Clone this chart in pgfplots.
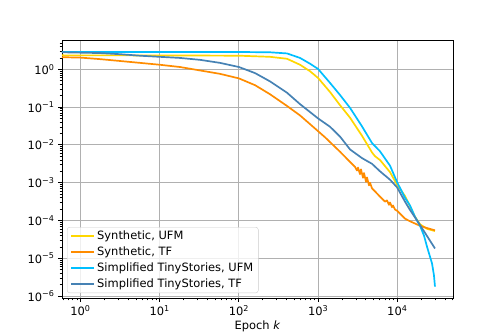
\documentclass[border=0pt]{standalone}
\usepackage{fontspec}
\setmainfont{DejaVu Sans}
\usepackage{pgfplots}
\pgfplotsset{compat=1.18}
\definecolor{cgold}{RGB}{255,215,0}
\definecolor{corange}{RGB}{255,140,0}
\definecolor{csky}{RGB}{0,191,255}
\definecolor{csteel}{RGB}{70,130,180}

\begin{document}
\begin{tikzpicture}
\path[use as bounding box] (-62bp,-37bp) rectangle (441bp,298bp);
\begin{axis}[
  at={(0,0)}, anchor=south west,
  scale only axis, width=391bp, height=258bp,
  xmode=log, ymode=log,
  xmin=0.584, xmax=50500, ymin=8.9e-7, ymax=5.96,
  xtick={1,10,100,1000,10000},
  xticklabels={10\textsuperscript{0},10\textsuperscript{1},10\textsuperscript{2},10\textsuperscript{3},10\textsuperscript{4}},
  ytick={1e-6,1e-5,1e-4,1e-3,1e-2,1e-1,1},
  yticklabels={10\textsuperscript{−6},10\textsuperscript{−5},10\textsuperscript{−4},10\textsuperscript{−3},10\textsuperscript{−2},10\textsuperscript{−1},10\textsuperscript{0}},
  minor xtick={0.6,0.7,0.8,0.9,2,3,4,5,6,7,8,9,20,30,40,50,60,70,80,90,200,300,400,500,600,700,800,900,2000,3000,4000,5000,6000,7000,8000,9000,20000,30000,40000,50000},
  minor ytick={2e-6,3e-6,4e-6,5e-6,6e-6,7e-6,8e-6,9e-6,2e-5,3e-5,4e-5,5e-5,6e-5,7e-5,8e-5,9e-5,2e-4,3e-4,4e-4,5e-4,6e-4,7e-4,8e-4,9e-4,2e-3,3e-3,4e-3,5e-3,6e-3,7e-3,8e-3,9e-3,0.02,0.03,0.04,0.05,0.06,0.07,0.08,0.09,0.2,0.3,0.4,0.5,0.6,0.7,0.8,0.9,2,3,4,5},
  tick align=outside, tick pos=left,
  major tick length=4bp, minor tick length=2.3bp,
  every tick/.style={black, line width=0.9bp},
  minor tick style={black, line width=0.7bp},
  ymajorgrids=true, xmajorgrids=true,
  major grid style={color=black!31, line width=0.9bp},
  axis line style={black, line width=0.9bp},
  tick label style={font=\fontsize{11.5}{13.8}\selectfont},
  xlabel={Epoch \textit{k}},
  label style={font=\fontsize{11.5}{13.8}\selectfont},
  xlabel style={yshift=2bp},
  legend style={at={(0.0128,0.0194)}, anchor=south west, draw=black!20,
    rounded corners=2.5bp, fill=white, fill opacity=0.8, text opacity=1,
    font=\fontsize{11.5}{13.8}\selectfont, row sep=1.6bp},
  legend cell align=left,
  legend image code/.code={\draw[#1, line width=2bp] (0bp,0bp) -- (23bp,0bp);},
  every axis plot/.append style={line width=1.7bp, line join=round},
]
\addplot[color=cgold] coordinates {
(0.584,2.34)(10,2.33)(100,2.29)(247,2.14)(405,1.9)(591,1.32)(790,0.891)(1000,0.589)
(1414,0.251)(1892,0.1122)(2530,0.0525)(3585,0.0174)(4795,0.00631)(5230,0.00501)
(6050,0.00398)(8090,0.0019)(9910,8.9e-4)(12500,4.47e-4)(14450,2.4e-4)(16720,1.26e-4)
(19360,7.94e-5)(23700,6.03e-5)(29900,5.25e-5)
};
\addlegendentry{Synthetic, UFM}
\addplot[color=corange] coordinates {
(0.584,2.09)(1,2.04)(1.76,1.86)(3.15,1.66)(5.64,1.48)(10,1.32)(18,1.15)(32.3,0.933)
(57.7,0.759)(100,0.575)(160,0.38)(247,0.219)(405,0.1072)(591,0.0603)(863,0.0302)
(1225,0.01585)(1892,0.0066)(2530,0.00355)(2924,0.00263)(3097,0.0021)(3190,0.00251)
(3381,0.00168)(3480,0.00225)(3690,0.00135)(3800,0.0018)(4030,0.00105)(4145,0.00138)
(4395,8.5e-4)(4520,0.001)(4795,7.08e-4)(5230,5.89e-4)(6050,4.27e-4)(7000,3.16e-4)
(7410,3.4e-4)(7850,2.6e-4)(8090,3.0e-4)(8570,2.25e-4)(8830,2.5e-4)(9350,1.95e-4)
(9910,1.82e-4)(12500,1.12e-4)(14450,9.55e-5)(19360,7.24e-5)(23700,6.31e-5)(29900,5.5e-5)
};
\addlegendentry{Synthetic, TF}
\addplot[color=csky] coordinates {
(0.584,2.88)(1,2.88)(10,2.88)(100,2.87)(247,2.82)(405,2.63)(591,2.0)(790,1.41)(1000,1.02)
(1414,0.437)(1892,0.209)(2530,0.0955)(3585,0.0309)(4795,0.0112)(6050,0.00676)
(8090,0.00282)(9910,0.00105)(12500,3.98e-4)(14450,2.51e-4)(16720,1.26e-4)(19360,7.24e-5)
(21740,3.98e-5)(23700,2.04e-5)(27400,7.41e-6)(29040,3.55e-6)(29900,1.78e-6)
};
\addlegendentry{Simplified TinyStories, UFM}
\addplot[color=csteel] coordinates {
(0.584,2.82)(1.76,2.69)(3.15,2.51)(5.64,2.29)(10,2.14)(18,2.0)(32.3,1.78)(57.7,1.48)
(100,1.15)(160,0.794)(247,0.479)(405,0.24)(591,0.12)(1000,0.0501)(1414,0.0302)
(1892,0.0166)(2530,0.00759)(3585,0.00447)(4795,0.00316)(6050,0.002)(8090,0.0012)
(9910,7.59e-4)(12500,3.16e-4)(14450,1.91e-4)(19360,7.59e-5)(29900,1.82e-5)
};
\addlegendentry{Simplified TinyStories, TF}
\end{axis}
\end{tikzpicture}
\end{document}
